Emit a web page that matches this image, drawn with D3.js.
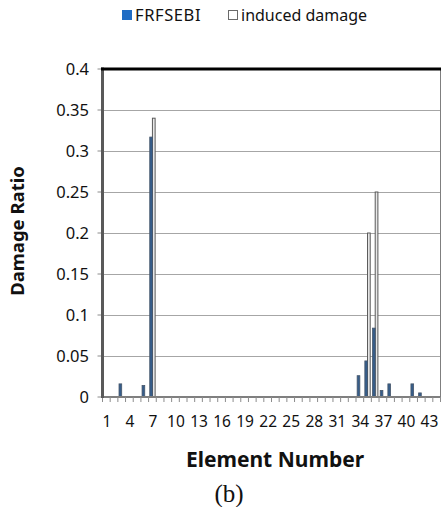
<!DOCTYPE html>
<html lang="en">
<head>
    <meta charset="UTF-8">
    <title>Damage Ratio</title>
    <style>
        body { margin: 0; background: #fff; }
        text { font-family: "Noto Sans", "Open Sans", sans-serif; fill: #111; }
        .grid line { stroke: #a6a6a6; stroke-width: 1; }
    </style>
</head>
<body>
    <svg id="chart" width="446" height="507"></svg>

<script src="https://cdn.jsdelivr.net/npm/d3@7"></script>
<script>

    // element numbers 1..44
    let elements = [1,2,3,4,5,6,7,8,9,10,11,12,13,14,15,16,17,18,19,20,21,22,
                    23,24,25,26,27,28,29,30,31,32,33,34,35,36,37,38,39,40,41,42,43,44]

    let frfsebi = [0,0,0.016,0,0,0.014,0.317,0,0,0,0,0,0,0,0,0,0,0,0,0,0,0,
                   0,0,0,0,0,0,0,0,0,0,0,0.026,0.044,0.084,0.008,0.016,0,0,0.016,0.005,0,0]

    let induced = [0,0,0,0,0,0,0.34,0,0,0,0,0,0,0,0,0,0,0,0,0,0,0,
                   0,0,0,0,0,0,0,0,0,0,0,0,0.2,0.25,0,0,0,0,0,0,0,0]

    let yTicks = [0,0.05,0.1,0.15,0.2,0.25,0.3,0.35,0.4]
    let xLabels = [1,4,7,10,13,16,19,22,25,28,31,34,37,40,43]

    let svg = d3.select("#chart")

    let plotLeft = 102.5, plotRight = 440.5, plotTop = 69, plotBottom = 397

    let xScale = d3.scaleBand()
        .domain(elements)
        .range([plotLeft, plotRight])
        .paddingInner(0.3)
        .paddingOuter(0.15)

    let sub = d3.scaleBand()
        .domain(["frfsebi", "induced"])
        .range([0, xScale.bandwidth()])

    let yScale = d3.scaleLinear()
        .domain([0, 0.4])
        .range([plotBottom, plotTop])

    // gridlines
    svg.append("g").attr("class", "grid")
        .selectAll("line")
        .data(yTicks.filter(d => d > 0 && d < 0.4))
        .join("line")
        .attr("x1", plotLeft).attr("x2", plotRight)
        .attr("y1", d => Math.round(yScale(d)) + 0.5)
        .attr("y2", d => Math.round(yScale(d)) + 0.5)

    // right border
    svg.append("line")
        .attr("x1", plotRight).attr("x2", plotRight)
        .attr("y1", plotTop).attr("y2", plotBottom)
        .attr("stroke", "#7f7f7f").attr("stroke-width", 1)

    // bars
    let step = xScale.step()
    let rows = elements.map((e, i) => ({e: e, f: frfsebi[i], d: induced[i]}))

    svg.append("g").selectAll("rect")
        .data(rows.filter(r => r.d > 0))
        .join("rect")
        .attr("x", r => xScale(r.e) + sub("induced"))
        .attr("y", r => yScale(r.d))
        .attr("width", sub.bandwidth())
        .attr("height", r => plotBottom - yScale(r.d))
        .attr("fill", "#e8e8e8")
        .attr("stroke", "#5a5a5a")
        .attr("stroke-width", 1)

    svg.append("g").selectAll("rect")
        .data(rows.filter(r => r.f > 0))
        .join("rect")
        .attr("x", r => xScale(r.e) + sub("frfsebi"))
        .attr("y", r => yScale(r.f))
        .attr("width", sub.bandwidth())
        .attr("height", r => plotBottom - yScale(r.f))
        .attr("fill", "#365d8a")
        .attr("stroke", "#46566a")
        .attr("stroke-width", 0.8)

    // x axis: line, ticks between categories
    svg.append("line")
        .attr("x1", plotLeft - 1).attr("x2", plotRight)
        .attr("y1", plotBottom).attr("y2", plotBottom)
        .attr("stroke", "#7f7f7f").attr("stroke-width", 2)

    let bounds = elements.map(e => xScale(e) - xScale.paddingInner() * step / 2)
    bounds.push(plotRight)
    svg.append("g").selectAll("line")
        .data(bounds)
        .join("line")
        .attr("x1", d => d).attr("x2", d => d)
        .attr("y1", plotBottom).attr("y2", plotBottom + 5)
        .attr("stroke", "#8c8c8c").attr("stroke-width", 1)

    svg.append("g").selectAll("text")
        .data(xLabels)
        .join("text")
        .attr("x", d => xScale(d) + xScale.bandwidth() / 2 + 0.5)
        .attr("y", 427)
        .attr("text-anchor", "middle")
        .style("font-size", "15.5px")
        .text(d => d)

    // y axis
    svg.append("g").selectAll("line")
        .data(yTicks)
        .join("line")
        .attr("x1", plotLeft - 5).attr("x2", plotLeft)
        .attr("y1", d => yScale(d)).attr("y2", d => yScale(d))
        .attr("stroke", "#8c8c8c").attr("stroke-width", 1)

    svg.append("line")
        .attr("x1", plotLeft).attr("x2", plotLeft)
        .attr("y1", plotTop - 1.5).attr("y2", plotBottom + 1)
        .attr("stroke", "#595959").attr("stroke-width", 3)

    // thick top border
    svg.append("line")
        .attr("x1", plotLeft - 1.5).attr("x2", plotRight + 0.5)
        .attr("y1", plotTop).attr("y2", plotTop)
        .attr("stroke", "#000").attr("stroke-width", 3)

    svg.append("g").selectAll("text")
        .data(yTicks)
        .join("text")
        .attr("x", 89)
        .attr("y", d => yScale(d))
        .attr("dy", "0.35em")
        .attr("text-anchor", "end")
        .style("font-size", "16.5px")
        .text(d => d)

    // axis titles
    svg.append("text")
        .attr("transform", "translate(24,231) rotate(-90)")
        .attr("text-anchor", "middle")
        .style("font-size", "18.5px")
        .style("font-weight", "bold")
        .text("Damage Ratio")

    svg.append("text")
        .attr("x", 275).attr("y", 467)
        .attr("text-anchor", "middle")
        .style("font-size", "21px")
        .style("font-weight", "bold")
        .text("Element Number")

    svg.append("text")
        .attr("x", 229).attr("y", 502)
        .attr("text-anchor", "middle")
        .style("font-family", "'Liberation Serif', serif")
        .style("font-size", "25px")
        .text("(b)")

    // legend
    let legend = svg.append("g")
    legend.append("rect")
        .attr("x", 122).attr("y", 10).attr("width", 10).attr("height", 10)
        .attr("fill", "#1f6cc4")
    legend.append("text")
        .attr("x", 135).attr("y", 21)
        .style("font-size", "16.5px")
        .style("letter-spacing", "0.6px")
        .text("FRFSEBI")
    legend.append("rect")
        .attr("x", 228.5).attr("y", 10.5).attr("width", 9).attr("height", 9)
        .attr("fill", "#fff").attr("stroke", "#6a6a6a").attr("stroke-width", 1)
    legend.append("text")
        .attr("x", 241).attr("y", 21)
        .style("font-size", "16px")
        .text("induced damage")

</script>
</body>
</html>
